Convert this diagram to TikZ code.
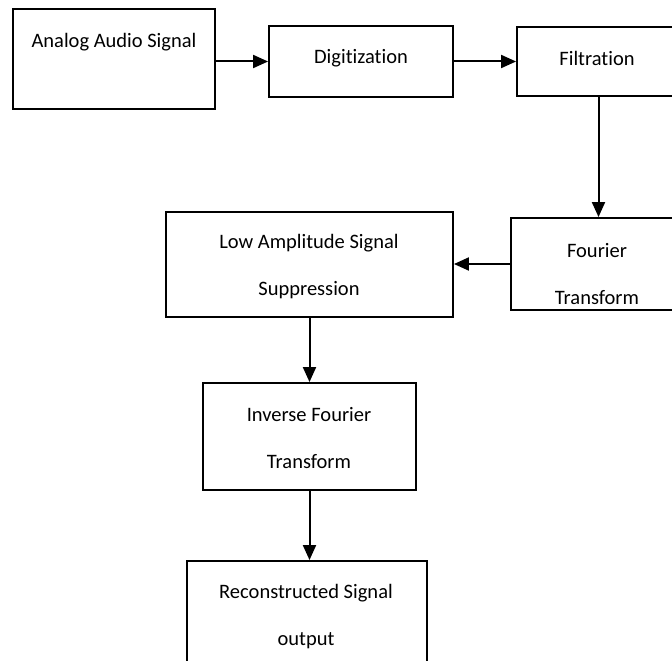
\documentclass[tikz,border=0pt]{standalone}
\usepackage{fontspec}
\setmainfont{Carlito}[Ligatures=NoCommon]
\usetikzlibrary{arrows.meta}
\tikzset{
  box/.style={draw=black, line width=1.9pt, rectangle, inner sep=0pt},
  lbl/.style={inner sep=0pt, align=center, font=\fontsize{20.5}{47}\selectfont},
  arr/.style={line width=2pt, -{Triangle[length=15pt,width=13pt]}}
}
\begin{document}
\begin{tikzpicture}[x=1pt,y=-1pt]
\useasboundingbox (0,0) rectangle (672,661);
\clip (0,0) rectangle (672,661);
% boxes
\node[box, minimum width=202pt, minimum height=100pt] (b1) at (114,59) {};
\node[box, minimum width=184pt, minimum height=71pt] (b2) at (361,61.5) {};
\node[box, minimum width=163pt, minimum height=69pt] (b3) at (598.5,61.5) {};
\node[box, minimum width=169pt, minimum height=92pt] (b4) at (595.5,264) {};
\node[box, minimum width=287pt, minimum height=105pt] (b5) at (309.5,264.5) {};
\node[box, minimum width=213pt, minimum height=107pt] (b6) at (309.5,436.5) {};
\node[box, minimum width=240pt, minimum height=114pt] (b7) at (307,618) {};
% labels
\node[lbl] (t1) at (114,42) {Analog Audio Signal};
\node[lbl] (t2) at (361,58) {Digitization};
\node[lbl] (t3) at (597,58) {Filtration};
\node[lbl] (t4) at (597,274) {Fourier\\Transform};
\node[lbl] (t5) at (309,266.5) {Low Amplitude Signal\\Suppression};
\node[lbl] (t6) at (309,438.5) {Inverse Fourier\\Transform};
\node[lbl] (t7) at (306,617) {Reconstructed Signal\\output};
% connectors
\draw[arr] (b1.east |- b2.west) -- (b2.west);
\draw[arr] (b2.east) -- (b3.west);
\draw[arr] (b3.south) -- (b3.south |- b4.north);
\draw[arr] (b4.west) -- (b4.west -| b5.east);
\draw[arr] (b5.south) -- (b5.south |- b6.north);
\draw[arr] (b6.south) -- (b6.south |- b7.north);
\end{tikzpicture}
\end{document}
